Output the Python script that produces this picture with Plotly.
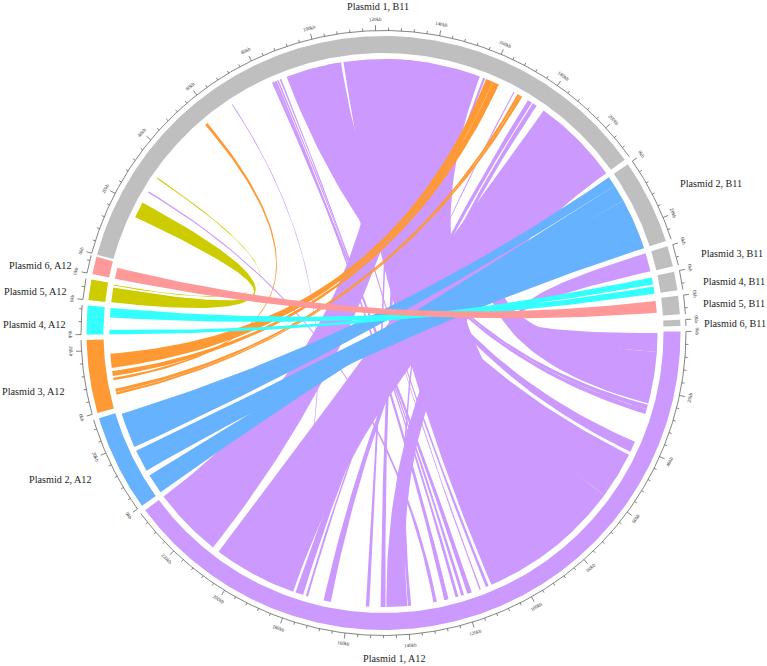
import numpy as np
import plotly.graph_objects as go

# plasmids in drawing order round the circle, lengths in kb
plasmid_names = ["Plasmid 1, B11", "Plasmid 2, B11", "Plasmid 3, B11", "Plasmid 4, B11", "Plasmid 5, B11", "Plasmid 6, B11",
                 "Plasmid 1, A12", "Plasmid 2, A12", "Plasmid 3, A12", "Plasmid 4, A12", "Plasmid 5, A12", "Plasmid 6, A12"]
plasmid_keys = ["B1", "B2", "B3", "B4", "B5", "B6", "A1", "A2", "A3", "A4", "A5", "A6"]
plasmid_kb = [211.5, 27.2, 6.6, 6.0, 5.9, 2.0, 235.5, 31.0, 23.4, 9.2, 6.6, 5.6]
plasmid_colors = ["#BFBFBF"] * 6 + ["#CC99FF", "#66B2FF", "#FF9933", "#33FFFF", "#CCCC00", "#FF9999"]

# alignments: B11 plasmid, from/to kb on it, A12 plasmid, from/to kb on it
link_b = ["B1", "B1", "B1", "B1", "B1", "B3", "B1", "B1", "B1", "B1", "B1", "B1", "B1", "B1", "B1", "B1", "B1", "B1", "B1", "B1", "B1", "B1", "B1", "B1",
          "B2", "B2", "B2",
          "B1", "B1", "B1", "B1", "B1",
          "B4", "B4",
          "B1", "B1",
          "B5"]
link_b_from = [88.5, 108.7, 122.5, 181.1, 181.1, 0.15, 198.0, 130.0, 100.0, 101.0, 25.4, 83.1, 84.0, 67.4, 157.4, 168.9, 174.6, 176.6, 125.0, 103.0, 104.0, 105.0, 85.0, 86.0,
               0.0, 3.5, 9.4,
               158.5, 161.0, 170.5, 171.4, 55.9,
               0.35, 3.5,
               15.9, 31.1,
               0.8]
link_b_to = [107.8, 156.2, 139.0, 211.5, 199.0, 6.5, 211.5, 132.0, 100.3, 101.3, 25.9, 84.0, 84.8, 67.7, 158.2, 169.3, 176.2, 178.2, 126.0, 104.0, 105.0, 106.5, 85.5, 86.5,
             3.5, 9.4, 27.2,
             161.0, 163.3, 171.4, 172.3, 56.9,
             2.8, 6.0,
             21.5, 31.5,
             4.9]
link_a = ["A1", "A1", "A1", "A1", "A1", "A1", "A1", "A1", "A1", "A1", "A1", "A1", "A1", "A1", "A1", "A1", "A1", "A1", "A1", "A1", "A1", "A1", "A1", "A1",
          "A2", "A2", "A2",
          "A3", "A3", "A3", "A3", "A3",
          "A4", "A4",
          "A5", "A5",
          "A6"]
link_a_from = [43.7, 110.0, 235.5, 208.7, 24.9, 7.0, 147.0, 149.0, 112.0, 114.4, 130.8, 118.8, 127.0, 189.4, 139.6, 175.0, 178.7, 168.7, 154.1, 28.7, 27.0, 42.6, 121.0, 123.0,
               30.2, 7.0, 16.6,
               18.5, 12.5, 6.4, 5.1, 10.2,
               1.6, 9.1,
               5.2, 6.2,
               3.8]
link_a_to = [60.0, 60.0, 211.1, 179.6, 7.0, 0.5, 139.8, 147.3, 111.0, 113.9, 129.6, 117.2, 125.5, 188.9, 138.5, 174.2, 176.0, 166.2, 152.9, 27.0, 25.4, 38.8, 120.0, 122.0,
             18.0, 0.1, 8.9,
             13.6, 10.8, 5.2, 4.3, 9.3,
             0.0, 5.8,
             0.15, 5.9,
             0.0]

# name label centres, px from circle centre
label_dx = [-5.5, 327.5, 348.5, 350, 350, 351, 11, -323, -350, -349.5, -348, -343]
label_dy = [-327, -150, -80, -52, -30, -10, 325, 146, 58, -9, -42, -68]

# layout of the wheel (px and degrees clockwise from 12 o'clock)
deg_per_kb = 0.61
gap_deg = 1.05
start_deg = 285.3
r_ring_out, r_ring_in, r_link = 297, 280, 274
r_axis, r_major, r_minor, r_ticklabel = 302.5, 308, 305.2, 313.5
cx, cy = 383.5, 333
page_w, page_h = 767, 666

starts = {}
a = start_deg
for key, kb in zip(plasmid_keys, plasmid_kb):
    starts[key] = a
    a += kb * deg_per_kb + gap_deg


def polar(r, deg):
    t = np.radians(deg)
    return r * np.sin(t), r * np.cos(t)


def arc(r, d0, d1):
    n = max(2, int(abs(d1 - d0) * 2) + 2)
    return polar(r, np.linspace(d0, d1, n))


def bezier(p0, p1):
    # quadratic curve with its control point on the circle centre
    t = np.linspace(0, 1, 60)
    return (1 - t) ** 2 * p0[0] + t ** 2 * p1[0], (1 - t) ** 2 * p0[1] + t ** 2 * p1[1]


def ang(key, kb):
    return starts[key] + kb * deg_per_kb


fig = go.Figure()

# ---------------- links
color_of = dict(zip(plasmid_keys, plasmid_colors))
for i in range(len(link_b)):
    s0, s1 = ang(link_b[i], link_b_from[i]), ang(link_b[i], link_b_to[i])
    t0, t1 = ang(link_a[i], link_a_from[i]), ang(link_a[i], link_a_to[i])
    xs, ys = arc(r_link, s0, s1)
    x1, y1 = bezier(polar(r_link, s1), polar(r_link, t1))
    x2, y2 = arc(r_link, t1, t0)
    x3, y3 = bezier(polar(r_link, t0), polar(r_link, s0))
    fig.add_trace(go.Scatter(x=np.concatenate([xs, x1, x2, x3]), y=np.concatenate([ys, y1, y2, y3]),
                             mode="lines", fill="toself", fillcolor=color_of[link_a[i]],
                             line=dict(width=0), hoverinfo="skip", showlegend=False))

# ---------------- ring segments and kb axes
ax_x, ax_y = [], []
annotations = []
for key, kb, color, name, dx, dy in zip(plasmid_keys, plasmid_kb, plasmid_colors, plasmid_names, label_dx, label_dy):
    d0, d1 = starts[key], starts[key] + kb * deg_per_kb
    xo, yo = arc(r_ring_out, d0, d1)
    xi, yi = arc(r_ring_in, d1, d0)
    fig.add_trace(go.Scatter(x=np.concatenate([xo, xi]), y=np.concatenate([yo, yi]), mode="lines", fill="toself",
                             fillcolor=color, line=dict(width=0), hoverinfo="skip", showlegend=False))
    xa, ya = arc(r_axis, d0, d1)
    ax_x += list(xa) + [None]
    ax_y += list(ya) + [None]
    for tick in range(0, int(kb) + 1, 4):
        deg = d0 + tick * deg_per_kb
        major = tick % 20 == 0
        x0, y0 = polar(r_axis, deg)
        x1, y1 = polar(r_major if major else r_minor, deg)
        ax_x += [x0, x1, None]
        ax_y += [y0, y1, None]
        if major:
            lx, ly = polar(r_ticklabel, deg)
            rot = deg % 360
            if 90 < rot < 270:
                rot -= 180
            annotations.append(dict(x=lx, y=ly, text=str(tick) + "kb", showarrow=False, textangle=rot,
                                    font=dict(family="Liberation Serif", size=5, color="#333333")))
    annotations.append(dict(x=dx, y=-dy, text=name, showarrow=False,
                            font=dict(family="Liberation Serif", size=10.2, color="#222222")))

fig.add_trace(go.Scatter(x=ax_x, y=ax_y, mode="lines", line=dict(color="#333333", width=0.6),
                         hoverinfo="skip", showlegend=False))

fig.update_layout(width=page_w, height=page_h, margin=dict(l=0, r=0, t=0, b=0),
                  paper_bgcolor="white", plot_bgcolor="white", annotations=annotations,
                  xaxis=dict(range=[-cx, page_w - cx], visible=False, fixedrange=True),
                  yaxis=dict(range=[cy - page_h, cy], visible=False, fixedrange=True))
# the page's default body margin would push the 767 px figure out of the window
fig.write_html("out.html", config={"displayModeBar": False}, post_script="document.body.style.margin='0';")
